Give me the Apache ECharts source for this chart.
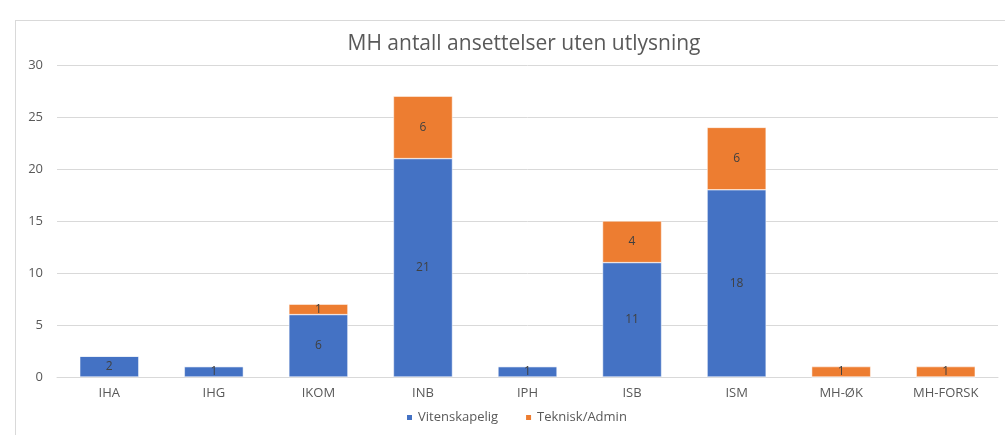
<!DOCTYPE html>
<html>
<head>
<meta charset="utf-8">
<script src="https://cdn.jsdelivr.net/npm/echarts@6/dist/echarts.min.js"></script>
<style>
  html, body { margin: 0; padding: 0; background: #fff; }
  #frame {
    position: absolute; left: 15px; top: 20px; width: 990px; height: 415px;
    border-left: 1px solid #d9d9d9; border-top: 1px solid #d9d9d9;
    box-sizing: border-box;
  }
  #main { position: absolute; left: 0; top: 0; width: 1005px; height: 435px; }
</style>
</head>
<body>
<div id="frame"></div>
<div id="main"></div>
<script>
const categories = ['IHA', 'IHG', 'IKOM', 'INB', 'IPH', 'ISB', 'ISM', 'MH-ØK', 'MH-FORSK'];
const vitenskapelig = [2, 1, 6, 21, 1, 11, 18, 0, 0];
const tekniskAdmin = [0, 0, 1, 6, 0, 4, 6, 1, 1];

const chart = echarts.init(document.getElementById('main'));

// hide labels for empty segments
const labelFmt = p => (p.value ? p.value : '');

const option = {
  textStyle: { fontFamily: 'Open Sans' },
  title: {
    text: 'MH antall ansettelser uten utlysning',
    left: 519,
    textAlign: 'center',
    top: 29,
    textStyle: { color: '#595959', fontSize: 21, fontWeight: 'normal', fontFamily: 'Open Sans' }
  },
  legend: {
    bottom: 6,
    left: 400,
    itemWidth: 7,
    itemHeight: 7,
    itemGap: 26,
    icon: 'rect',
    textStyle: { color: '#595959', fontSize: 13 },
    data: ['Vitenskapelig', 'Teknisk/Admin']
  },
  grid: { left: 57, right: 7, top: 65, bottom: 58 },
  xAxis: {
    type: 'category',
    data: categories,
    axisTick: { show: false },
    axisLine: { lineStyle: { color: '#d9d9d9' } },
    axisLabel: { color: '#595959', fontSize: 13, margin: 10 }
  },
  yAxis: {
    type: 'value',
    min: 0,
    max: 30,
    interval: 5,
    axisLine: { show: false },
    axisTick: { show: false },
    splitLine: { lineStyle: { color: '#d9d9d9' } },
    axisLabel: { color: '#595959', fontSize: 13, margin: 14 }
  },
  series: [
    {
      name: 'Vitenskapelig',
      type: 'bar',
      stack: 'total',
      barWidth: 59,
      data: vitenskapelig,
      itemStyle: { color: '#4472C4', borderColor: '#ffffff', borderWidth: 0.5 },
      label: { show: true, position: 'inside', color: '#404040', fontSize: 12, formatter: labelFmt }
    },
    {
      name: 'Teknisk/Admin',
      type: 'bar',
      stack: 'total',
      barWidth: 59,
      data: tekniskAdmin,
      itemStyle: { color: '#ED7D31', borderColor: '#ffffff', borderWidth: 0.5 },
      label: { show: true, position: 'inside', color: '#404040', fontSize: 12, formatter: labelFmt }
    }
  ]
};

chart.setOption(option);
</script>
</body>
</html>
